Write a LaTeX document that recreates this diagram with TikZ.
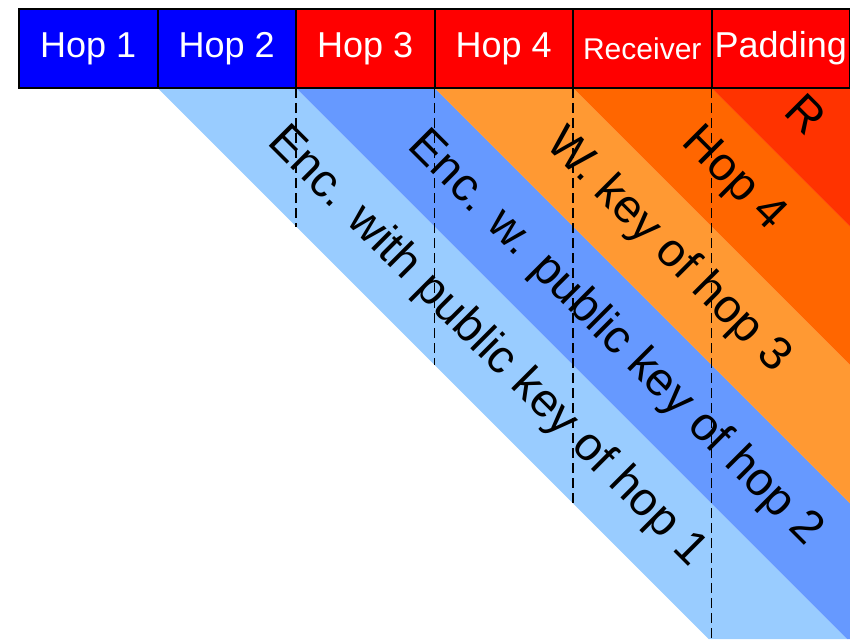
\documentclass[tikz,border=0pt]{standalone}
\usepackage{fontspec}
\setmainfont{Liberation Sans}
\definecolor{hopblue}{HTML}{0000FF}
\definecolor{hopred}{HTML}{FF0000}
\definecolor{lblue}{HTML}{99CCFF}
\definecolor{mblue}{HTML}{6699FF}
\definecolor{lorange}{HTML}{FF9933}
\definecolor{dorange}{HTML}{FF6600}
\definecolor{rorange}{HTML}{FF3300}
\begin{document}
\begin{tikzpicture}[x=1pt,y=-1pt,
  box/.style={draw=black,line width=2pt,minimum width=138.5pt,minimum height=79pt,inner sep=0pt,outer sep=0pt,text=white,font=\fontsize{36}{40}\selectfont},
  diag/.style={rotate=-45,inner sep=0pt,font=\fontsize{47}{50}\selectfont},
  dashline/.style={line width=1.8pt,dash pattern=on 10pt off 5pt}]
\useasboundingbox (0,0) rectangle (850,639);
\clip (0,0) rectangle (850,639);
% stripes
\fill[lblue] (157.5,88) -- (296,88) -- (847,639) -- (708.5,639) -- cycle;
\fill[mblue] (296,88) -- (434.5,88) -- (985.5,639) -- (847,639) -- cycle;
\fill[lorange] (434.5,88) -- (573,88) -- (1124,639) -- (985.5,639) -- cycle;
\fill[dorange] (573,88) -- (711.5,88) -- (1262.5,639) -- (1124,639) -- cycle;
\fill[rorange] (711.5,88) -- (850,88) -- (1401,639) -- (1262.5,639) -- cycle;
% header boxes
\node[box,fill=hopblue] (h1) at (88.25,48.5) {Hop 1};
\node[box,fill=hopblue] (h2) at (226.75,48.5) {Hop 2};
\node[box,fill=hopred] (h3) at (365.25,48.5) {Hop 3};
\node[box,fill=hopred] (h4) at (503.75,48.5) {Hop 4};
\node[box,fill=hopred,font=\fontsize{30}{34}\selectfont] (h5) at (642.25,48.5) {Receiver};
\node[box,fill=hopred] (h6) at (780.75,48.5) {Padding};
% dashed lines
\coordinate (d3) at (296,226.5);
\coordinate (d4) at (434.5,365);
\coordinate (d5) at (573,503.5);
\coordinate (d6) at (711.5,639);
\draw[dashline] (h3.south west) -- (d3);
\draw[dashline] (h4.south west) -- (d4);
\draw[dashline] (h5.south west) -- (d5);
\draw[dashline] (h6.south west) -- (d6);
% diagonal labels
\node[diag] (t1) at (487,347) {Enc. with public key of hop 1};
\node[diag] (t2) at (615,339) {Enc. w. public key of hop 2};
\node[diag] (t3) at (668,251) {W. key of hop 3};
\node[diag] (t4) at (733,180) {Hop 4};
\node[diag] (t5) at (806,114) {R};
\end{tikzpicture}
\end{document}
